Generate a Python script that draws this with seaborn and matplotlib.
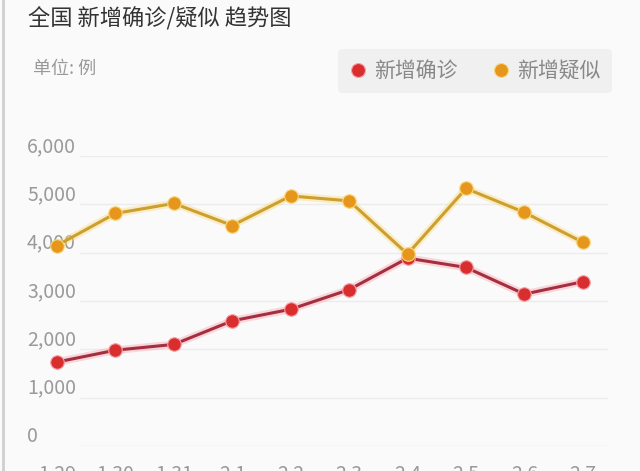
import matplotlib
matplotlib.use("Agg")
import matplotlib.pyplot as plt
import matplotlib.patheffects as pe
import matplotlib.transforms as mtransforms
from matplotlib.lines import Line2D
import pandas as pd
import seaborn as sns

dates = ["1.29", "1.30", "1.31", "2.1", "2.2", "2.3", "2.4", "2.5", "2.6", "2.7"]
confirmed = [1737, 1982, 2102, 2590, 2829, 3235, 3887, 3694, 3143, 3399]
suspected = [4148, 4812, 5019, 4562, 5173, 5072, 3971, 5328, 4833, 4214]
series_names = ["新增确诊", "新增疑似"]
y_ticks = [0, 1000, 2000, 3000, 4000, 5000, 6000]

line_colors = {"新增确诊": "#a52e40", "新增疑似": "#cc9f2e"}
dot_colors = {"新增确诊": "#d92e2e", "新增疑似": "#e6961c"}
glow_colors = {"新增确诊": "#f7a0a8", "新增疑似": "#f8d878"}

df = pd.DataFrame({
    "idx": list(range(len(dates))) * 2,
    "value": confirmed + suspected,
    "series": [series_names[0]] * len(dates) + [series_names[1]] * len(dates),
})

sns.set_theme(style="white")
plt.rcParams["font.family"] = ["Noto Sans CJK SC", "DejaVu Sans"]

bg = "#fafafa"
fig = plt.figure(figsize=(6.4, 4.71), dpi=100, facecolor=bg)
# x step is ~58.4 px; the axes starts 0.4 steps left of the first date
ax = fig.add_axes([33.6 / 640, 25 / 471, 574.4 / 640, 290 / 471])
ax.set_facecolor("none")

# horizontal grid lines, starting right of the value labels
for v in y_ticks:
    ax.hlines(v, 0.39, 9.43, color="#ececec" if v else "#e4e4e4", lw=1.0, zorder=0)

for name in series_names:
    sub = df[df["series"] == name]
    sns.lineplot(data=sub, x="idx", y="value", color=line_colors[name], lw=2.2,
                 ax=ax, legend=False, zorder=3)
    ax.lines[-1].set_clip_on(False)
    ax.lines[-1].set_path_effects([
        pe.Stroke(linewidth=5.5, foreground=glow_colors[name], alpha=0.4),
        pe.Normal(),
    ])
    sns.scatterplot(data=sub, x="idx", y="value", color=dot_colors[name], s=95,
                    edgecolor=glow_colors[name], linewidth=0.8, ax=ax,
                    legend=False, zorder=4, clip_on=False)

ax.set_xticks(range(len(dates)))
ax.set_xticklabels(dates, fontsize=14, color="#999999")
ax.tick_params(axis="x", length=0, pad=13)
ax.set_xlim(-0.4, 9.43)
ax.set_ylim(0, 6000)
ax.set_yticks([])

# value labels sit just above their grid lines, left aligned
trans = mtransforms.blended_transform_factory(fig.transFigure, ax.transData)
for v in y_ticks:
    ax.text(27 / 640, v - 20, f"{v:,}", transform=trans, fontsize=14, color="#9a9a9a",
            ha="left", va="bottom", zorder=1)
ax.set_xlabel("")
ax.set_ylabel("")
for s in ax.spines.values():
    s.set_visible(False)

fig.text(28 / 640, 1 - 19 / 471, "全国 新增确诊/疑似 趋势图", fontsize=16,
         color="#333333", ha="left", va="center")
fig.text(33 / 640, 1 - 69 / 471, "单位: 例", fontsize=13,
         color="#999999", ha="left", va="center")

handles = [Line2D([], [], ls="none", marker="o", markersize=10,
                  markerfacecolor=dot_colors[n], markeredgecolor=glow_colors[n],
                  markeredgewidth=0.8, label=n) for n in series_names]
leg = fig.legend(handles=handles, loc="center", bbox_to_anchor=(475 / 640, 1 - 71 / 471),
                 ncol=2, frameon=True, fontsize=15, labelcolor="#888888",
                 handletextpad=0.35, columnspacing=1.7, handlelength=0.8,
                 borderpad=0.55, fancybox=True)
leg.get_frame().set_facecolor("#f0f0f0")
leg.get_frame().set_edgecolor("none")
leg.get_frame().set_alpha(1)

fig.add_artist(Line2D([2.5 / 640, 2.5 / 640], [0, 1], transform=fig.transFigure,
                      color="#cfcfcf", lw=2))

fig.savefig("out.png", dpi=100, facecolor=bg)
